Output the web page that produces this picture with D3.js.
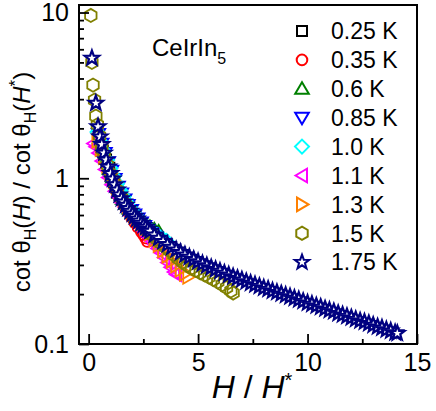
<!DOCTYPE html>
<html><head><meta charset="utf-8">
<script src="https://cdn.jsdelivr.net/npm/d3@7"></script>
<style>
body{margin:0;background:#fff;}
svg{display:block;font-family:"Liberation Sans",Arial,Helvetica,sans-serif;}
</style>
</head><body>
<svg id="c" width="436" height="411"></svg>
<script>
// ---- data (x = H/H*, y = cot θH(H)/cot θH(H*)) ----
const seriesLabels = ["0.25 K","0.35 K","0.6 K","0.85 K","1.0 K","1.1 K","1.3 K","1.5 K","1.75 K"];
const seriesColors = ["#000000","#ff0000","#008000","#0000ff","#00ffff","#ff00ff","#ff8000","#808000","#000080"];
const seriesShapes = ["square","circle","triUp","triDown","diamond","triLeft","triRight","hexagon","star"];

const s025 = [[0.5,1.66],[0.65,1.47],[0.8,1.30],[0.95,1.16],[1.1,0.99],[1.25,0.88],[1.4,0.795],[1.55,0.74],[1.7,0.69],[1.85,0.645],[2.0,0.61],[2.15,0.58],[2.3,0.552],[2.45,0.527],[2.6,0.505]];
const s035 = [[0.45,1.70],[0.6,1.52],[0.75,1.34],[0.9,1.17],[1.05,1.03],[1.2,0.91],[1.35,0.81],[1.5,0.735],[1.65,0.675],[1.8,0.625],[1.95,0.58],[2.1,0.54],[2.25,0.505],[2.4,0.475],[2.5,0.455],[2.6,0.435],[2.68,0.415]];
const s06 = [[0.5,1.75],[0.65,1.52],[0.8,1.31],[0.95,1.14],[1.1,1.01],[1.25,0.90],[1.4,0.815],[1.55,0.75],[1.7,0.70],[1.85,0.655],[2.0,0.62],[2.2,0.585],[2.4,0.555],[2.6,0.53],[2.8,0.51],[3.0,0.492],[3.2,0.478]];
const s085 = [[0.45,1.85],[0.6,1.62],[0.75,1.42],[0.9,1.25],[1.05,1.11],[1.2,0.99],[1.35,0.89],[1.5,0.81],[1.65,0.745],[1.8,0.69],[1.95,0.645],[2.1,0.605],[2.25,0.572],[2.4,0.542],[2.55,0.515],[2.7,0.49],[2.85,0.468],[3.0,0.45]];
const s10 = [[0.4,1.9],[0.55,1.66],[0.7,1.46],[0.85,1.29],[1.0,1.15],[1.15,1.03],[1.3,0.93],[1.45,0.845],[1.6,0.775],[1.75,0.715],[1.9,0.665],[2.05,0.625],[2.2,0.59],[2.35,0.56],[2.5,0.533],[2.65,0.51],[2.8,0.49],[2.95,0.472],[3.1,0.456],[3.25,0.442],[3.4,0.43],[3.55,0.42]];
const s11 = [[0.22,1.62],[0.32,1.55],[0.45,1.42],[0.6,1.27],[0.75,1.13],[0.9,1.01],[1.05,0.915],[1.2,0.835],[1.35,0.77],[1.5,0.715],[1.65,0.67],[1.8,0.63],[1.95,0.595],[2.1,0.565],[2.25,0.535],[2.4,0.505],[2.55,0.475],[2.7,0.445],[2.85,0.42],[3.0,0.398],[3.15,0.377],[3.3,0.355],[3.45,0.332],[3.6,0.31],[3.75,0.29],[3.9,0.272],[4.0,0.263]];
const s13 = [[0.4,1.68],[0.55,1.5],[0.7,1.34],[0.85,1.19],[1.0,1.07],[1.15,0.965],[1.3,0.875],[1.45,0.80],[1.6,0.74],[1.8,0.675],[2.0,0.62],[2.2,0.575],[2.4,0.535],[2.6,0.50],[2.8,0.465],[3.0,0.425],[3.2,0.395],[3.4,0.366],[3.6,0.34],[3.8,0.317],[4.0,0.297],[4.2,0.28],[4.4,0.265],[4.55,0.254]];
const s15 = [[0.1,9.6],[0.15,5.0],[0.2,3.65],[0.27,2.96],[0.33,2.37],[0.4,2.10],[0.5,1.80],[0.6,1.55],[0.7,1.38],[0.85,1.20],[1.0,1.06],[1.15,0.95],[1.3,0.85],[1.5,0.76],[1.7,0.69],[1.9,0.63],[2.1,0.58],[2.3,0.545],[2.5,0.51],[2.7,0.48],[2.9,0.455],[3.1,0.43],[3.3,0.405],[3.5,0.385],[3.7,0.365],[3.9,0.345],[4.1,0.327],[4.3,0.312],[4.5,0.298],[4.7,0.287],[4.9,0.278],[5.1,0.269],[5.3,0.261],[5.5,0.253],[5.7,0.245],[5.9,0.237],[6.1,0.228],[6.3,0.219],[6.5,0.209],[6.6,0.203]];
const s175 = [[0.15,5.30],[0.33,2.84],[0.43,2.05],[0.52,1.78],[0.6,1.60],[0.7,1.42],[0.8,1.29],[0.9,1.17],[1.0,1.07],[1.1,0.99],[1.2,0.915],[1.3,0.85],[1.4,0.795],[1.5,0.755],[1.6,0.72],[1.7,0.688],[1.8,0.658],[1.9,0.633],[2.0,0.610],[2.1,0.589],[2.2,0.569],[2.3,0.552],[2.4,0.535],[2.5,0.52],[2.6,0.506],[2.7,0.492],[2.8,0.479],[3.0,0.455],[3.2,0.435],[3.4,0.416],[3.6,0.399],[3.8,0.384],[4.0,0.370],[4.2,0.357],[4.4,0.345],[4.6,0.334],[4.8,0.324],[5.0,0.314],[5.2,0.305],[5.4,0.297],[5.6,0.289],[5.8,0.282],[6.0,0.275],[6.2,0.268],[6.4,0.261],[6.6,0.255],[6.8,0.249],[7.0,0.244],[7.2,0.238],[7.4,0.233],[7.6,0.228],[7.8,0.223],[8.0,0.218],[8.2,0.214],[8.4,0.209],[8.6,0.205],[8.8,0.201],[9.0,0.197],[9.2,0.193],[9.4,0.189],[9.6,0.185],[9.8,0.181],[10.0,0.177],[10.2,0.174],[10.4,0.170],[10.6,0.167],[10.8,0.163],[11.0,0.160],[11.2,0.157],[11.4,0.153],[11.6,0.150],[11.8,0.147],[12.0,0.144],[12.2,0.141],[12.4,0.138],[12.6,0.136],[12.8,0.133],[13.0,0.130],[13.2,0.127],[13.4,0.125],[13.6,0.122],[13.8,0.120],[14.0,0.117],[14.1,0.116]];

const xTicks = [0,5,10,15];
const xMinorTicks = [2.5,7.5,12.5];
const yTicks = [0.1,1,10];
const yTickLabels = ["0.1","1","10"];
const yMinorTicks = [0.2,0.3,0.4,0.5,0.6,0.7,0.8,0.9,2,3,4,5,6,7,8,9];

// ---- layout ----
const plot = {left:79, right:417, top:5, bottom:344};
const svg = d3.select("#c");

const x = d3.scaleLinear().domain([-0.44, 15]).range([plot.left, plot.right]);
const y = d3.scaleLog().domain([0.1, 11.1]).range([plot.bottom, plot.top]);

// ---- symbol shapes ----
function shapePath(t){
  switch(t){
    case "square": return "M-5,-5H5V5H-5Z";
    case "circle": return "M5.3,0A5.3,5.3 0 1,1 -5.3,0A5.3,5.3 0 1,1 5.3,0Z";
    case "triUp": return "M0,-6.5L6.8,5L-6.8,5Z";
    case "triDown": return "M0,6.5L6.8,-5L-6.8,-5Z";
    case "diamond": return "M0,-7L7,0L0,7L-7,0Z";
    case "triLeft": return "M-6.5,0L5,-6.8L5,6.8Z";
    case "triRight": return "M6.5,0L-5,-6.8L-5,6.8Z";
    case "hexagon": {
      const r = 6.6, p = [];
      for(let k=0;k<6;k++){const a=(-90+60*k)*Math.PI/180; p.push([r*Math.cos(a), r*Math.sin(a)]);}
      return "M"+p.map(d=>d[0].toFixed(2)+","+d[1].toFixed(2)).join("L")+"Z";
    }
    case "star": {
      const ro = 7.6, ri = 3.1, p = [];
      for(let k=0;k<10;k++){const a=(-90+36*k)*Math.PI/180; const r=k%2?ri:ro; p.push([r*Math.cos(a), r*Math.sin(a)]);}
      return "M"+p.map(d=>d[0].toFixed(2)+","+d[1].toFixed(2)).join("L")+"Z";
    }
  }
}

const allSeries = [s025,s035,s06,s085,s10,s11,s13,s15,s175];

// ---- data marks ----
const gData = svg.append("g");
allSeries.forEach((s,i)=>{
  gData.append("g").selectAll("path").data(s).join("path")
    .attr("d", shapePath(seriesShapes[i]))
    .attr("transform", d=>`translate(${x(d[0])},${y(d[1])})`)
    .attr("fill", seriesShapes[i]==="star" ? "#fff" : "none")
    .attr("stroke", seriesColors[i])
    .attr("stroke-width", seriesShapes[i]==="star" ? 2.2 : 1.8)
    .attr("stroke-linejoin","miter");
});

// ---- axes ----
const gx = svg.append("g").attr("transform",`translate(0,${plot.bottom})`)
  .call(d3.axisBottom(x).tickValues(xTicks).tickSize(-10).tickPadding(9).tickFormat(d3.format("d")));
const gxm = svg.append("g").attr("transform",`translate(0,${plot.bottom})`)
  .call(d3.axisBottom(x).tickValues(xMinorTicks).tickSize(-5).tickFormat(""));
const gy = svg.append("g").attr("transform",`translate(${plot.left},0)`)
  .call(d3.axisLeft(y).tickValues(yTicks).tickSize(-10).tickPadding(10).tickFormat((d,i)=>yTickLabels[i]));
const gym = svg.append("g").attr("transform",`translate(${plot.left},0)`)
  .call(d3.axisLeft(y).tickValues(yMinorTicks).tickSize(-5).tickFormat(""));
[gx,gxm,gy,gym].forEach(g=>{
  g.select(".domain").remove();
  g.selectAll(".tick line").attr("stroke","#000").attr("stroke-width",1.8);
  g.selectAll(".tick text").attr("fill","#000").attr("font-size",25).attr("font-family","Liberation Sans, Arial, sans-serif");
});

// frame
svg.append("rect").attr("x",plot.left).attr("y",plot.top)
  .attr("width",plot.right-plot.left).attr("height",plot.bottom-plot.top)
  .attr("fill","none").attr("stroke","#000").attr("stroke-width",2);

// ---- legend ----
const lg = svg.append("g");
seriesLabels.forEach((lab,i)=>{
  const yy = 31 + i*28.9;
  lg.append("path").attr("d",shapePath(seriesShapes[i]))
    .attr("transform",`translate(302,${yy})`)
    .attr("fill", seriesShapes[i]==="star" ? "#fff" : "none")
    .attr("stroke",seriesColors[i]).attr("stroke-width",2);
  lg.append("text").attr("x",331).attr("y",yy).attr("dy","0.36em")
    .attr("font-size",23).attr("fill","#000").text(lab);
});

// ---- compound label ----
const ct = svg.append("text").attr("x",152).attr("y",56).attr("font-size",24).attr("fill","#000");
ct.append("tspan").text("CeIrIn");
ct.append("tspan").attr("font-size",16).attr("dy",8).text("5");

// ---- x label ----
const xl = svg.append("text").attr("x",252).attr("y",398).attr("text-anchor","middle")
  .attr("font-size",32).attr("fill","#000");
xl.append("tspan").attr("font-style","italic").text("H");
xl.append("tspan").text(" / ");
xl.append("tspan").attr("font-style","italic").text("H");
xl.append("tspan").attr("font-size",20).attr("dy",-11).text("*");

// ---- y label ----
const yl = svg.append("text").attr("transform","translate(30,182) rotate(-90)")
  .attr("text-anchor","middle").attr("font-size",24).attr("fill","#000");
yl.append("tspan").text("cot θ");
yl.append("tspan").attr("font-size",16).attr("dy",6).text("H");
yl.append("tspan").attr("dy",-6).text("(");
yl.append("tspan").attr("font-style","italic").text("H");
yl.append("tspan").text(") / cot θ");
yl.append("tspan").attr("font-size",16).attr("dy",6).text("H");
yl.append("tspan").attr("dy",-6).text("(");
yl.append("tspan").attr("font-style","italic").text("H");
yl.append("tspan").attr("font-size",17).attr("dy",-9).text("*");
yl.append("tspan").attr("dy",9).text(")");
</script>
</body></html>
